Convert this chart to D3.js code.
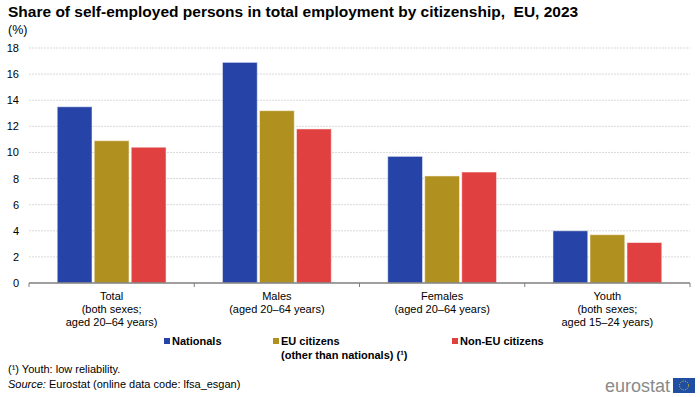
<!DOCTYPE html>
<html>
<head>
<meta charset="utf-8">
<script src="https://cdn.jsdelivr.net/npm/d3@7"></script>
<style>
  body { margin: 0; background: #fff; }
  text { font-family: "Liberation Sans", Arial, sans-serif; fill: #000; }
</style>
</head>
<body>
<div id="chart"></div>
<script>
const categories = ['Total', 'Males', 'Females', 'Youth'];
const categoryLabels = [
  ['Total', '(both sexes;', 'aged 20\u201364 years)'],
  ['Males', '(aged 20\u201364 years)'],
  ['Females', '(aged 20\u201364 years)'],
  ['Youth', '(both sexes;', 'aged 15\u201324 years)']
];
const seriesNames = ['Nationals', 'EU citizens', 'Non-EU citizens'];
const nationals = [13.5, 16.9, 9.7, 4.0];
const euCitizens = [10.9, 13.2, 8.2, 3.7];
const nonEuCitizens = [10.4, 11.8, 8.5, 3.1];
const yTicks = [0, 2, 4, 6, 8, 10, 12, 14, 16, 18];
const colors = ['#2644A7', '#B09120', '#E04040'];

const W = 700, H = 397;
const margin = { top: 48, right: 10, bottom: 114, left: 29 };
const width = W - margin.left - margin.right;
const height = H - margin.top - margin.bottom;

const svg = d3.select('#chart').append('svg')
  .attr('width', W)
  .attr('height', H);

svg.append('text')
  .attr('x', 8).attr('y', 17)
  .style('font-size', '15.5px').style('font-weight', 'bold')
  .style('white-space', 'pre')
  .text('Share of self-employed persons in total employment by citizenship,  EU, 2023');
svg.append('text')
  .attr('x', 8).attr('y', 34)
  .style('font-size', '12.5px')
  .text('(%)');

const g = svg.append('g')
  .attr('transform', `translate(${margin.left}, ${margin.top})`);

const x = d3.scaleBand()
  .domain(categories)
  .range([0, width])
  .paddingInner(0)
  .paddingOuter(0);

const x1 = d3.scaleBand()
  .domain(seriesNames)
  .range([26, x.bandwidth() - 26])
  .padding(0.06);

const y = d3.scaleLinear()
  .domain([0, 18])
  .range([height, 0]);

// grid
g.append('g')
  .selectAll('line')
  .data(yTicks.filter(d => d > 0))
  .enter().append('line')
  .attr('x1', 0).attr('x2', width)
  .attr('y1', d => y(d)).attr('y2', d => y(d))
  .attr('stroke', '#d9d9d9')
  .attr('stroke-dasharray', '2,1')
  .attr('stroke-width', 1);

// y axis labels
g.append('g')
  .call(d3.axisLeft(y).tickValues(yTicks).tickSize(0).tickPadding(10))
  .call(s => s.select('.domain').remove())
  .call(s => s.selectAll('text')
    .style('font-size', '11px')
    .style('font-family', '"Liberation Sans", Arial, sans-serif')
    .attr('fill', '#000'));

const series = [nationals, euCitizens, nonEuCitizens];

series.forEach((vals, si) => {
  g.selectAll('.bar' + si)
    .data(vals)
    .enter().append('rect')
    .attr('x', (d, i) => x(categories[i]) + x1(seriesNames[si]))
    .attr('y', d => y(d))
    .attr('width', x1.bandwidth())
    .attr('height', d => height - y(d))
    .attr('fill', colors[si])
    .attr('stroke', '#ffffff')
    .attr('stroke-opacity', 0.5)
    .attr('stroke-width', 1);
});

// x axis
const xAxis = g.append('g')
  .attr('transform', `translate(0, ${height})`);
xAxis.append('line')
  .attr('x1', 0).attr('x2', width)
  .attr('y1', 0).attr('y2', 0)
  .attr('stroke', '#7f7f7f').attr('stroke-width', 1.5);
xAxis.selectAll('.tk')
  .data(d3.range(categories.length + 1))
  .enter().append('line')
  .attr('x1', i => i * x.step()).attr('x2', i => i * x.step())
  .attr('y1', 0).attr('y2', 4)
  .attr('stroke', '#7f7f7f');

categoryLabels.forEach((lines, i) => {
  const t = xAxis.append('text')
    .attr('text-anchor', 'middle')
    .style('font-size', '11px');
  lines.forEach((ln, j) => {
    t.append('tspan')
      .attr('x', x(categories[i]) + x.bandwidth() / 2)
      .attr('y', 17 + j * 13)
      .text(ln);
  });
});

// legend
const leg = svg.append('g');
seriesNames.forEach((name, i) => {
  const lx = [164, 273, 452][i];
  leg.append('rect')
    .attr('x', lx).attr('y', 338)
    .attr('width', 6).attr('height', 6)
    .attr('fill', colors[i]);
  const t = leg.append('text')
    .style('font-size', '11px').style('font-weight', 'bold');
  t.append('tspan').attr('x', lx + 8).attr('y', 345).text(name);
  if (i === 1) {
    t.append('tspan').attr('x', lx + 8).attr('y', 359).text('(other than nationals) (\u00b9)');
  }
});

// footnotes
svg.append('text')
  .attr('x', 8).attr('y', 373)
  .style('font-size', '11px')
  .text('(\u00b9) Youth: low reliability.');
const src = svg.append('text')
  .attr('x', 8).attr('y', 388)
  .style('font-size', '11px');
src.append('tspan').style('font-style', 'italic').text('Source:');
src.append('tspan').text(' Eurostat (online data code: lfsa_esgan)');

// logo
svg.append('text')
  .attr('x', 670).attr('y', 392)
  .attr('text-anchor', 'end')
  .style('font-size', '18px')
  .style('fill', '#8a8a8a')
  .text('eurostat');
svg.append('rect')
  .attr('x', 673).attr('y', 378)
  .attr('width', 22).attr('height', 15)
  .attr('fill', '#1f4ea3');
svg.append('circle')
  .attr('cx', 684).attr('cy', 385.5).attr('r', 4.5)
  .attr('fill', 'none')
  .attr('stroke', '#f5d000')
  .attr('stroke-width', 1)
  .attr('stroke-dasharray', '1,1.4');
</script>
</body>
</html>
